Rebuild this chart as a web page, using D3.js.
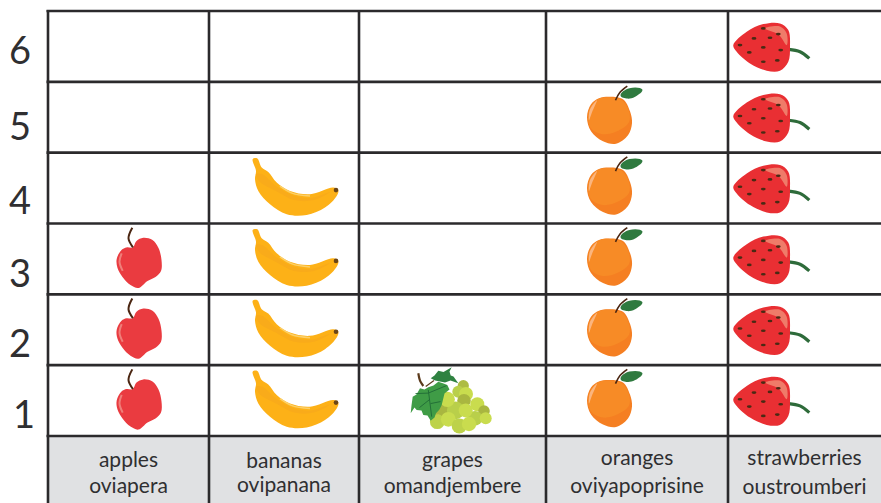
<!DOCTYPE html>
<html>
<head>
<meta charset="utf-8">
<script src="https://cdn.jsdelivr.net/npm/d3@7"></script>
<style>
  html, body { margin: 0; padding: 0; background: #fff; }
  svg { display: block; }
  text { font-family: Lato, "Open Sans", sans-serif; fill: #2f2f31; }
</style>
</head>
<body>
<svg id="chart"></svg>
<script>
let width = 881;
let height = 503;

// the pictogram table
const categories = ['apples', 'bananas', 'grapes', 'oranges', 'strawberries'];
const translations = ['oviapera', 'ovipanana', 'omandjembere', 'oviyapoprisine', 'oustroumberi'];
const counts = [3, 4, 1, 5, 6];
const rowTicks = [1, 2, 3, 4, 5, 6];

let svg = d3.select('#chart').attr('width', width).attr('height', height);

// columns are not the same width in the original
let x = d3.scaleOrdinal().domain(categories).range([48, 209, 359, 546, 728]);
let xEnd = d3.scaleOrdinal().domain(categories).range([209, 359, 546, 728, 881]);
let y = d3.scaleLinear().domain([0, 6]).range([436, 11]);
let xMid = c => (x(c) + xEnd(c)) / 2;
let yMid = v => (y(v) + y(v - 1)) / 2;

// ---- fruit glyphs, drawn around the centre of a cell
let blob = d3.line().curve(d3.curveCatmullRomClosed.alpha(0.5));
let open = d3.line().curve(d3.curveCatmullRom.alpha(0.5));
let defs = svg.append('defs');

let apple = defs.append('g').attr('id', 'apples');
apple.append('path').attr('fill', '#ea3b40').attr('d', blob([[4.2,-11.5],[8,-18],[14.8,-21.2],[24,-19],[30,-11],[33,1],[32.5,12],[27,18],[19,22],[10,29],[2,26],[-6,18],[-11,9],[-11.8,0],[-7,-9],[-2,-11.5]]));
apple.append('path').attr('fill', 'none').attr('stroke', '#ef7f7a').attr('stroke-width', 2).attr('d', open([[-6.8,-5.6],[-9,3],[-5.8,12]]));
apple.append('path').attr('fill', 'none').attr('stroke', '#4a2511').attr('stroke-width', 2).attr('d', open([[4.4,-11.6],[0,-20.6],[3.8,-31.2]]));

let banana = defs.append('g').attr('id', 'bananas');
banana.append('path').attr('fill', '#fdb117').attr('d', blob([[-31.3,-28.9],[-26.7,-29.6],[-22.3,-20.6],[-15.7,-16.2],[-7.3,-5.6],[6,2.8],[26,6.1],[49.3,-0.6],[54.3,1.8],[52.7,7.8],[41,19.4],[22.7,26.8],[2.7,26.1],[-14,16.1],[-25.7,2.8],[-29,-8.9],[-28,-17.2]]));
banana.append('path').attr('fill', '#f9ab1a').attr('d', blob([[-28,-14],[-22,-14],[-8,-2],[8,7],[26,10],[46,4],[30,12],[10,12],[-8,3],[-24,-6]]));
banana.append('path').attr('fill', 'none').attr('stroke', '#fcd069').attr('stroke-width', 1.5).attr('d', open([[-4,-2],[8,5],[26,8]]));
banana.append('circle').attr('cx', 52).attr('cy', 2).attr('r', 2.3).attr('fill', '#6b4516');

let grapeBerries = [
  [10.8,-14.9,5.6,'#aebc43'],[5.8,-8.9,6,'#b9cf4a'],[13.5,-6.6,7,'#c9dc4e'],[11.5,0.1,6.8,'#a9b640'],
  [24.8,3.7,7,'#c9dc4e'],[31.5,10.4,5.8,'#a9b640'],[22.5,17.7,7.4,'#b9cf4a'],[33.2,17.7,6,'#c9dc4e'],
  [-9.8,9.4,6.4,'#a9b640'],[3.2,9.8,8.8,'#b9cf4a'],[13.2,9.8,7,'#c9dc4e'],[-18.5,12.7,4.6,'#a9b640'],
  [-15.2,21.1,7.4,'#bdd24a'],[-4.2,18.7,7.4,'#c9dc4e'],[6.8,25.4,7.6,'#bdd24a'],[16.5,23.4,7.2,'#c9dc4e'],
  [-5.2,-1.3,7.6,'#c9dc4e']
];
let grapes = defs.append('g').attr('id', 'grapes');
grapes.append('path').attr('fill', 'none').attr('stroke', '#5b3a1c').attr('stroke-width', 2.2).attr('d', open([[-34.2,-27.3],[-32.5,-20],[-29.2,-14.6]]));
grapes.append('path').attr('fill', 'none').attr('stroke', '#5b3a1c').attr('stroke-width', 1.2).attr('d', open([[-26.8,-14],[-18.5,-20]]));
grapes.append('path').attr('fill', '#2f8241').attr('d', d3.line()([[-21.8,-22.3],[-18,-25],[-14.2,-29.9],[-9,-28.5],[-0.8,-33.3],[-3,-29],[-1.8,-25],[1,-24],[5.8,-17.3],[-2,-20],[-7.5,-18],[-17.5,-20]]));
grapes.selectAll('circle').data(grapeBerries).enter().append('circle')
  .attr('cx', d => d[0]).attr('cy', d => d[1]).attr('r', d => d[2]).attr('fill', d => d[3]);
grapes.append('path').attr('fill', '#3f9c46').attr('d', d3.line()([[-41.8,12.7],[-41,5],[-39.8,-3.9],[-36,-6],[-32.5,-12.3],[-28,-11],[-24.2,-13.3],[-19,-15],[-14.2,-18.9],[-9,-17],[-5.2,-15.6],[-3,-11],[-8,-7],[-10.8,4.4],[-13,9],[-16.5,12.7],[-18,17],[-21.8,20.1],[-25,15],[-29.2,14.4],[-31,10],[-35.8,9.4],[-38,7]]));
grapes.append('path').attr('fill', 'none').attr('stroke', '#1f6a35').attr('stroke-width', 0.9).attr('d', 'M-24.2-10.6L-20.8 16.1M-24.2-7.5L-37-7M-24.2-7.5L-6-15M-23-1L-33 7M-22 3L-12 1');

let orange = defs.append('g').attr('id', 'oranges');
orange.append('path').attr('fill', '#f57f22').attr('d', blob([[-27,-20.5],[-14,-18],[-7,-6],[-5,6],[-9,18],[-21,26.5],[-34,24],[-46,14],[-50,0],[-46,-13],[-38,-19]]));
orange.append('path').attr('fill', '#f78b26').attr('d', blob([[-27,-20],[-15,-17],[-8,-6],[-8,5],[-20,14],[-34,17],[-46,11],[-49,-2],[-45,-13],[-37,-19]]));
orange.append('path').attr('fill', '#fbb57e').attr('d', blob([[-40,-17],[-47,-8],[-48,3],[-45,-5]]));
orange.append('path').attr('fill', 'none').attr('stroke', '#4a2511').attr('stroke-width', 1.6).attr('d', open([[-21.5,-17],[-17,-25],[-9.7,-31.2]]));
orange.append('path').attr('fill', '#2f7a3f').attr('d', d3.line().curve(d3.curveBasisClosed)([[-20,-21],[-9,-31],[11,-29],[-3,-19],[-10,-18]]));

let strawberrySeeds = [[-41.2,-18],[-26.2,-12.3],[-34.5,-8.7],[-50.5,-8],[-64.5,-1.3],[-41.2,1],[-23.8,3.7],[-55.2,6],[-27.2,14],[-41.2,15.3]];
let strawberry = defs.append('g').attr('id', 'strawberries');
strawberry.append('path').attr('fill', 'none').attr('stroke', '#2e6b3a').attr('stroke-width', 3.2).attr('d', open([[-16,3],[-4.5,5.3],[4.8,12]]));
strawberry.append('path').attr('fill', '#e92f33').attr('d', blob([[-71.2,-1.3],[-57.8,-14.7],[-41.2,-22.3],[-24.5,-23],[-16.2,-16.3],[-14.5,0.3],[-16.2,15.3],[-24.5,24.3],[-37.8,24.3],[-54.5,17],[-67.8,5.3]]));
strawberry.append('path').attr('fill', '#ef7b69').attr('d', blob([[-39.5,-18],[-24.5,-20],[-17.8,-13],[-17.8,-1.3],[-26,-12]]));
strawberry.selectAll('ellipse').data(strawberrySeeds).enter().append('ellipse')
  .attr('cx', d => d[0]).attr('cy', d => d[1]).attr('rx', 2.4).attr('ry', 1.3).attr('fill', '#4a2a14');

// ---- label band under the grid
svg.append('rect').attr('x', 48).attr('y', y(0)).attr('width', width - 48).attr('height', height - y(0)).attr('fill', '#e0e1e3');

// ---- fruit, one per counted cell
let columns = svg.selectAll('g.column').data(categories).enter().append('g').attr('class', 'column');
columns.selectAll('use').data((c, i) => d3.range(1, counts[i] + 1).map(v => ({ c, v }))).enter().append('use')
  .attr('href', d => '#' + d.c)
  .attr('x', d => xMid(d.c))
  .attr('y', d => yMid(d.v));

// ---- grid
let lineColor = '#2b2a2c';
svg.append('g').selectAll('line').data(rowTicks.concat(0)).enter().append('line')
  .attr('x1', 46.5).attr('x2', width)
  .attr('y1', d => y(d)).attr('y2', d => y(d))
  .attr('stroke', lineColor).attr('stroke-width', 2.6);
svg.append('g').selectAll('line').data(categories).enter().append('line')
  .attr('x1', d => x(d)).attr('x2', d => x(d))
  .attr('y1', y(6) - 1).attr('y2', height)
  .attr('stroke', lineColor).attr('stroke-width', 2.6);

// ---- row numbers drift upward from their rows the higher they go
const rowNudge = [0, -1, -1, -3, -7, -12];
let rowAxis = d3.axisLeft(y).tickValues(rowTicks).tickFormat(d3.format('d')).tickSize(0).tickPadding(0);
let axisG = svg.append('g').attr('transform', 'translate(20,0)').call(rowAxis);
axisG.select('.domain').remove();
axisG.selectAll('text')
  .attr('x', d => d === 1 ? 4 : 0)
  .attr('y', d => yMid(d) - y(d) + 27 + d * 0.4 + rowNudge[d - 1])
  .attr('dy', 0)
  .attr('text-anchor', 'middle')
  .attr('font-size', 38)
  .style('font-family', 'Lato, "Open Sans", sans-serif');

// ---- column labels
let labels = svg.append('g').attr('font-size', 21).attr('text-anchor', 'middle');
const topLabelY = [467, 468, 467, 465, 465];
const bottomLabelY = [493, 492, 493, 493, 494];
labels.selectAll('text.en').data(categories).enter().append('text').attr('class', 'en')
  .attr('x', d => xMid(d)).attr('y', (d, i) => topLabelY[i]).text(d => d);
labels.selectAll('text.oshi').data(translations).enter().append('text').attr('class', 'oshi')
  .attr('x', (d, i) => xMid(categories[i])).attr('y', (d, i) => bottomLabelY[i]).text(d => d);
</script>
</body>
</html>
